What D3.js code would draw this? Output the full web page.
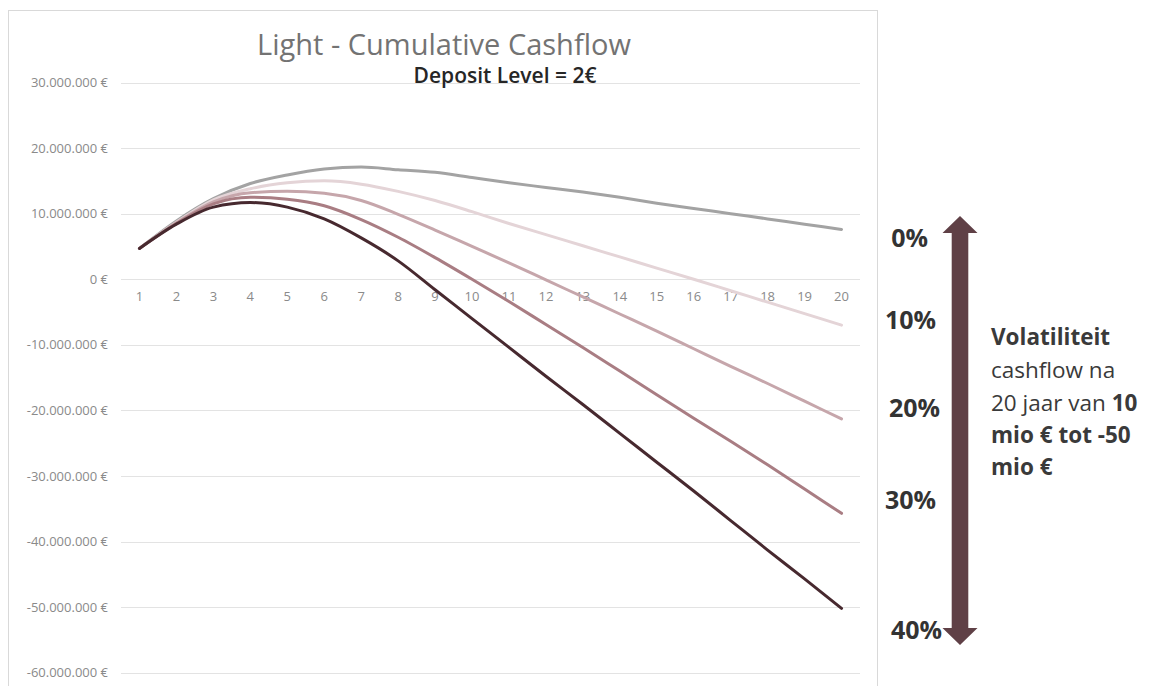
<!DOCTYPE html>
<html>
<head>
<meta charset="utf-8">
<script src="https://cdn.jsdelivr.net/npm/d3@7"></script>
<style>
  body { margin: 0; background: #fff; }
  svg { display: block; font-family: "Open Sans", sans-serif; }
</style>
</head>
<body>
<div id="chart"></div>
<script>
// years on the category axis
let years = d3.range(1, 21).map(String);

// cumulative cashflow in million euro, per volatility level
let vol0  = [4.7, 8.9, 12.3, 14.6, 15.9, 16.8, 17.1, 16.7, 16.3, 15.5, 14.7, 14.0, 13.3, 12.5, 11.6, 10.8, 10.0, 9.2, 8.4, 7.6];
let vol10 = [4.7, 8.7, 12.1, 13.8, 14.7, 15.0, 14.5, 13.4, 12.0, 10.3, 8.5, 6.8, 5.1, 3.4, 1.7, 0.0, -1.75, -3.5, -5.25, -7.0];
let vol20 = [4.7, 8.6, 11.8, 13.2, 13.4, 13.1, 12.0, 9.9, 7.5, 5.0, 2.5, -0.1, -2.7, -5.3, -7.9, -10.6, -13.3, -15.9, -18.6, -21.3];
let vol30 = [4.7, 8.5, 11.5, 12.5, 12.2, 11.2, 9.1, 6.4, 3.3, 0.0, -3.4, -6.9, -10.4, -14.0, -17.6, -21.2, -24.7, -28.3, -32.0, -35.7];
let vol40 = [4.7, 8.4, 11.0, 11.7, 11.0, 9.2, 6.3, 2.8, -1.6, -6.0, -10.4, -14.8, -19.1, -23.5, -27.9, -32.3, -36.8, -41.3, -45.7, -50.2];

let seriesList = [vol0, vol10, vol20, vol30, vol40];
let seriesColors = ['#a3a3a3', '#e4d4d7', '#c6a6ab', '#a97d83', '#47292f'];

let yTicks = [30, 20, 10, 0, -10, -20, -30, -40, -50, -60];
let volLabels = ['0%', '10%', '20%', '30%', '40%'];

let width = 1152, height = 686;

let svg = d3.select('#chart').append('svg')
  .attr('width', width).attr('height', height);

// chart frame
svg.append('rect')
  .attr('x', 8.5).attr('y', 10.5)
  .attr('width', 869).attr('height', 690)
  .attr('fill', 'none').attr('stroke', '#d9d9d9');

let x = d3.scaleBand().domain(years).range([121, 860]);
let y = d3.scaleLinear().domain([-60, 30]).range([672.7, 82.5]);

// gridlines
svg.append('g').selectAll('line')
  .data(yTicks).enter().append('line')
  .attr('x1', 121).attr('x2', 860)
  .attr('y1', d => Math.round(y(d)) + 0.5)
  .attr('y2', d => Math.round(y(d)) + 0.5)
  .attr('stroke', '#e3e3e3');

// y axis labels
let fmt = d => d === 0 ? '0 €' : d3.format(',')(d * 1000000).replace(/,/g, '.').replace('−', '-') + ' €';
let yAxis = d3.axisLeft(y).tickValues(yTicks).tickSize(0).tickPadding(0).tickFormat(fmt);
svg.append('g')
  .attr('transform', 'translate(108,0)')
  .call(yAxis)
  .call(g => g.select('.domain').remove())
  .selectAll('text')
  .attr('fill', '#8a8a8a')
  .style('font-size', '13px')
  .style('font-family', '"Open Sans", sans-serif');

// x axis labels (sit just under the zero line)
let xAxis = d3.axisBottom(x).tickSize(0).tickPadding(0);
svg.append('g')
  .attr('transform', 'translate(0,' + (y(0) + 13) + ')')
  .call(xAxis)
  .call(g => g.select('.domain').remove())
  .selectAll('text')
  .attr('fill', '#8a8a8a')
  .style('font-size', '13px')
  .style('font-family', '"Open Sans", sans-serif');

// lines
let line = d3.line()
  .x((d, i) => x(years[i]) + x.bandwidth() / 2)
  .y(d => y(d))
  .curve(d3.curveMonotoneX);

svg.append('g').selectAll('path')
  .data(seriesList).enter().append('path')
  .attr('d', line)
  .attr('fill', 'none')
  .attr('stroke', (d, i) => seriesColors[i])
  .attr('stroke-width', 3)
  .attr('stroke-linecap', 'round')
  .attr('stroke-linejoin', 'round');

// titles
svg.append('text')
  .attr('x', 444).attr('y', 55)
  .attr('text-anchor', 'middle')
  .attr('fill', '#737373')
  .style('font-size', '29px')
  .text('Light - Cumulative Cashflow');

svg.append('text')
  .attr('x', 505).attr('y', 83)
  .attr('text-anchor', 'middle')
  .attr('fill', '#262626')
  .style('font-size', '21px')
  .style('font-weight', 600)
  .text('Deposit Level = 2€');

// volatility arrow
let arrowColor = '#5f4046';
let ax = 960, arrowTop = 216, arrowBottom = 645, headH = 17, headW = 17.5, shaftW = 8.3;
svg.append('path')
  .attr('d', 'M' + ax + ',' + arrowTop +
    'L' + (ax + headW) + ',' + (arrowTop + headH) +
    'L' + (ax + shaftW) + ',' + (arrowTop + headH) +
    'L' + (ax + shaftW) + ',' + (arrowBottom - headH) +
    'L' + (ax + headW) + ',' + (arrowBottom - headH) +
    'L' + ax + ',' + arrowBottom +
    'L' + (ax - headW) + ',' + (arrowBottom - headH) +
    'L' + (ax - shaftW) + ',' + (arrowBottom - headH) +
    'L' + (ax - shaftW) + ',' + (arrowTop + headH) +
    'L' + (ax - headW) + ',' + (arrowTop + headH) + 'Z')
  .attr('fill', arrowColor);

// volatility level labels
let volPos = [[928, 247], [936, 329], [940, 417], [936, 509], [942, 639]];
svg.append('g').selectAll('text')
  .data(volLabels).enter().append('text')
  .attr('x', (d, i) => volPos[i][0])
  .attr('y', (d, i) => volPos[i][1])
  .attr('text-anchor', 'end')
  .attr('fill', '#333333')
  .style('font-size', '25px')
  .style('font-weight', 700)
  .text(d => d);

// side note
let note = svg.append('text')
  .attr('x', 991).attr('y', 345)
  .attr('fill', '#3a3a3a')
  .style('font-size', '22.5px');
note.append('tspan').attr('x', 991).attr('dy', 0).style('font-weight', 700).text('Volatiliteit');
note.append('tspan').attr('x', 991).attr('dy', 33).text('cashflow na');
note.append('tspan').attr('x', 991).attr('dy', 33).text('20 jaar van ');
note.append('tspan').style('font-weight', 700).text('10');
note.append('tspan').attr('x', 991).attr('dy', 32).style('font-weight', 700).text('mio € tot -50');
note.append('tspan').attr('x', 991).attr('dy', 32).style('font-weight', 700).text('mio €');
</script>
</body>
</html>
